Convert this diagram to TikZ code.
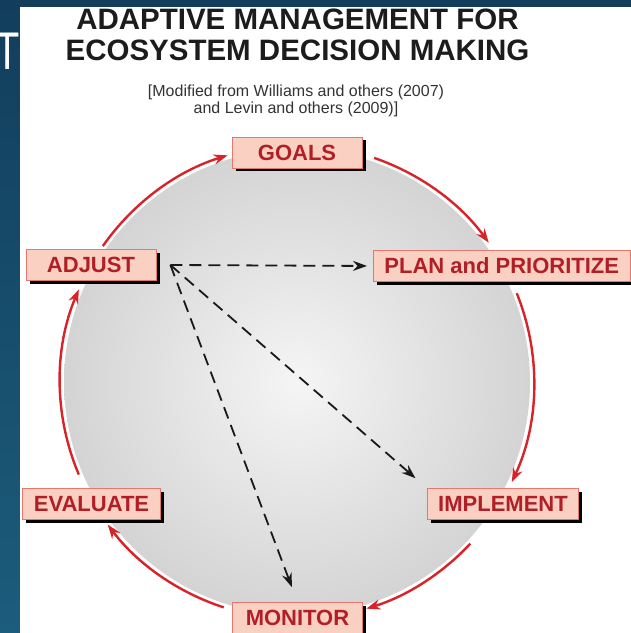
\documentclass[tikz,border=0pt]{standalone}
\usepackage{fontspec}
\setmainfont{Liberation Sans}
\usetikzlibrary{calc,shadows,arrows.meta}
\definecolor{slideblue}{RGB}{18,62,92}
\definecolor{slidebluelight}{RGB}{28,92,124}
\definecolor{boxfill}{RGB}{249,208,194}
\definecolor{boxline}{RGB}{226,120,110}
\definecolor{boxtext}{RGB}{178,30,38}
\definecolor{cyclered}{RGB}{216,36,40}
\definecolor{titlegray}{RGB}{28,28,28}

\tikzset{
  stagebox/.style={draw=boxline, fill=boxfill, text=boxtext, line width=.8pt,
    font=\bfseries\fontsize{22}{22}\selectfont, minimum width=130pt, minimum height=31pt,
    inner xsep=11pt, drop shadow={shadow xshift=3.5pt,shadow yshift=-3.5pt,fill=black,opacity=1}},
  cyclearrow/.style={-{Stealth[length=14pt,width=10pt]}, line width=2.4pt, color=cyclered},
  dasharrow/.style={-{Stealth[length=14pt,width=10pt]}, line width=1.8pt,
    dash pattern=on 12pt off 7pt, color=black!90}
}

\begin{document}
\begin{tikzpicture}[x=1pt,y=1pt]
\useasboundingbox (0,0) rectangle (631,633);
% slide background
\shade[top color=slideblue, bottom color=slidebluelight] (0,0) rectangle (631,633);
\node[anchor=base west, inner sep=0, text=white, font=\fontsize{53}{53}\selectfont] (slidetitle) at (-5,563) {\scalebox{.75}[1]{T}};
\fill[white] (20,0) rectangle (631,626);

% title
\node[text=titlegray, align=center, font=\bfseries\fontsize{29.5}{30.5}\selectfont] (title) at (297.5,598) {ADAPTIVE MANAGEMENT FOR\\ECOSYSTEM DECISION MAKING};
\node[text=titlegray!90, align=center, font=\fontsize{16}{17}\selectfont] (source) at (296,532.5) {[Modified from Williams and others (2007)\\and Levin and others (2009)]};

% cycle
\coordinate (ctr) at (297,251);
\shade[inner color=black!4, outer color=black!17] (ctr) circle (233);

\foreach\a/\b in {71/36, 22/-25, -43/-73, -108/-143, -157/-203, 145/107}
\draw[cyclearrow] ($(ctr)+(\a:237)$) arc[start angle=\a, end angle=\b, radius=237];

\node[stagebox] (goals) at (297,480.5) {GOALS};
\node[stagebox, anchor=west] (plan) at (373,367) {PLAN and PRIORITIZE};
\node[stagebox] (implement) at (503,129) {IMPLEMENT};
\node[stagebox] (monitor) at (297.5,15) {MONITOR};
\node[stagebox] (evaluate) at (91.5,129) {EVALUATE};
\node[stagebox] (adjust) at (91,368) {ADJUST};

% dashed links
\coordinate (hub) at ($(adjust.east)+(14,0)$);
\draw[dasharrow, shorten >=6pt] (hub) -- (plan.west);
\draw[dasharrow, shorten >=15pt] (hub) -- (implement.north west);
\draw[dasharrow, shorten >=16pt] (hub) -- (monitor.north);
\end{tikzpicture}
\end{document}
